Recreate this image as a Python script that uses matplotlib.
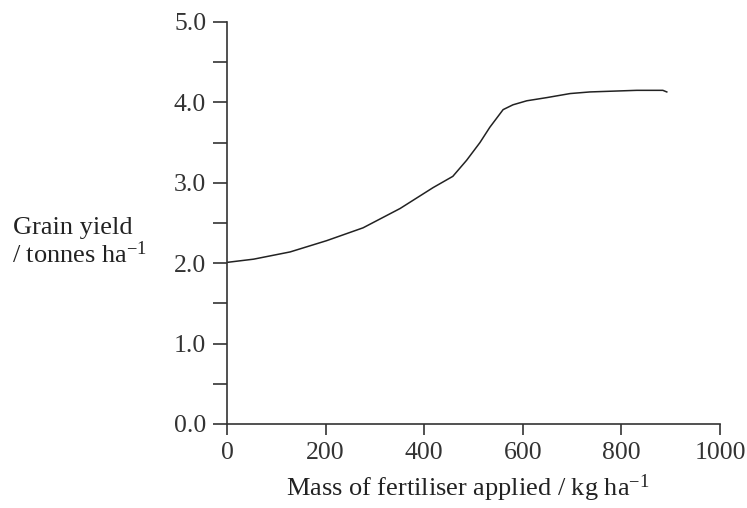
import numpy as np
import matplotlib
matplotlib.use("Agg")
import matplotlib.pyplot as plt

# fertiliser mass (kg/ha) vs grain yield (tonnes/ha)
fertiliser = [0, 54, 128, 202, 276, 351, 418, 458, 486, 513, 533, 560, 580,
              608, 649, 696, 736, 831, 884, 892]
grain_yield = [2.01, 2.05, 2.14, 2.28, 2.44, 2.68, 2.94, 3.08, 3.28, 3.50, 3.69,
               3.91, 3.97, 4.02, 4.06, 4.11, 4.13, 4.15, 4.15, 4.13]

x_ticks = [0, 200, 400, 600, 800, 1000]
y_ticks = np.arange(0, 5.01, 0.5)
y_labels = ["0.0", "", "1.0", "", "2.0", "", "3.0", "", "4.0", "", "5.0"]

plt.rcParams["font.family"] = ["Liberation Serif", "DejaVu Serif"]
plt.rcParams["mathtext.fontset"] = "custom"
plt.rcParams["mathtext.rm"] = "Liberation Serif"
plt.rcParams["mathtext.it"] = "Liberation Serif:italic"

fig = plt.figure(figsize=(7.47, 5.08), dpi=100)
ax = fig.add_axes([0.3039, 0.1654, 0.66, 0.7913])

ax.plot(fertiliser, grain_yield, color="#222222", lw=1.1)

ax.set_xlim(0, 1000)
ax.set_ylim(0, 5.0)
ax.set_xticks(x_ticks)
ax.set_xticklabels([str(t) for t in x_ticks])
ax.set_yticks(y_ticks)
ax.set_yticklabels(y_labels)

for s in ["top", "right"]:
    ax.spines[s].set_visible(False)
for s in ["left", "bottom"]:
    ax.spines[s].set_color("#333333")
    ax.spines[s].set_linewidth(1.2)

ax.tick_params(axis="y", length=10, width=1.2, color="#333333",
               labelsize=18.5, pad=5, labelcolor="#333333")
ax.tick_params(axis="x", length=8, width=1.2, color="#333333",
               labelsize=18.5, pad=5, labelcolor="#333333")

ax.set_xlabel("Mass of fertiliser applied / kg ha$^{-1}$", fontsize=19,
              color="#222222")
ax.xaxis.set_label_coords(0.489, -0.179)
ax.xaxis.label.set_va("baseline")

fig.text(0.018, 0.539, "Grain yield", fontsize=19, color="#222222",
         ha="left", va="baseline")
fig.text(0.016, 0.482, "/ tonnes ha$^{-1}$", fontsize=19, color="#222222",
         ha="left", va="baseline")

fig.savefig("out.png", dpi=100)
